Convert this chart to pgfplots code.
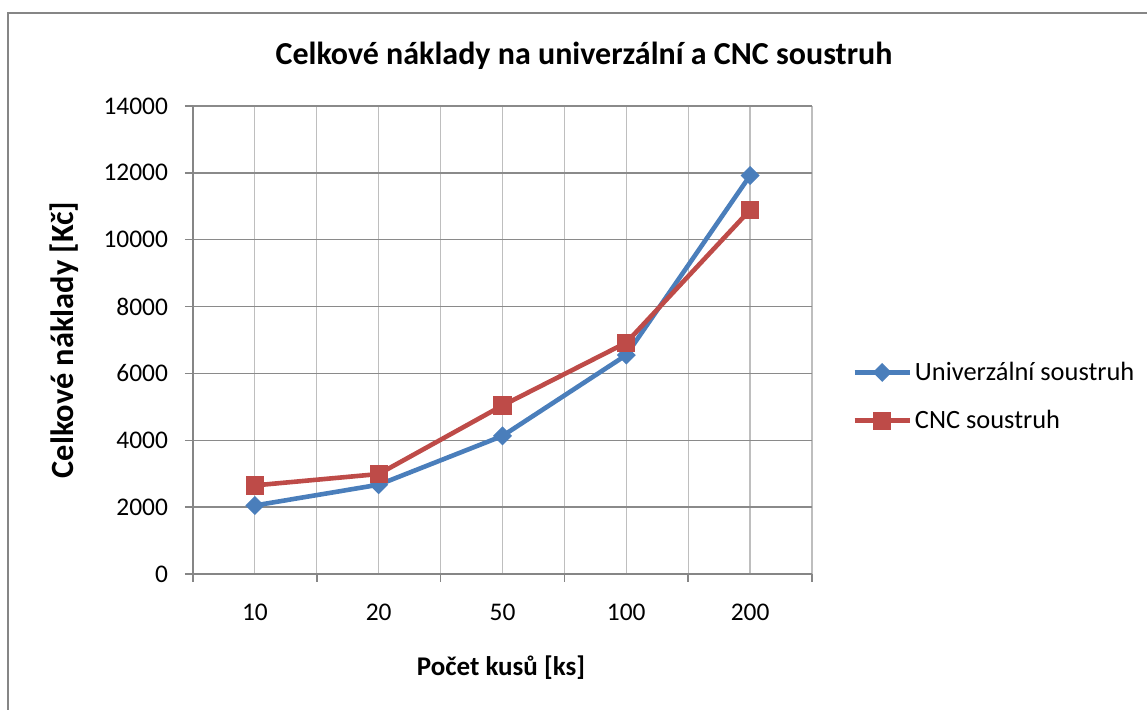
\documentclass[border=0pt]{standalone}
\usepackage{pgfplots}
\pgfplotsset{compat=1.18}
\usepackage{fontspec}
\setmainfont{Carlito}
\definecolor{serA}{RGB}{74,126,187}
\definecolor{serB}{RGB}{190,75,72}
\definecolor{axgray}{RGB}{134,134,134}
\definecolor{hgrid}{RGB}{138,138,138}
\definecolor{vgrid}{RGB}{190,190,190}
\begin{document}
\begin{tikzpicture}
\useasboundingbox (0,0) rectangle (573.5pt,355pt);
\draw[axgray, line width=1pt] (4pt,0pt) -- (4pt,348.5pt) -- (573.5pt,348.5pt);
\begin{axis}[
  at={(96.5pt,68pt)}, anchor=south west,
  scale only axis, width=309.5pt, height=234pt,
  xmin=-0.5, xmax=4.5, ymin=0, ymax=14000,
  xtick={0,1,2,3,4}, xticklabels={10,20,50,100,200},
  minor xtick={-0.5,0.5,1.5,2.5,3.5,4.5},
  ytick={0,2000,4000,6000,8000,10000,12000,14000},
  scaled y ticks=false,
  /pgf/number format/1000 sep={},
  /pgf/number format/assume math mode=true,
  axis x line*=bottom, axis y line*=left,
  axis line style={axgray, line width=0.75pt},
  tick align=outside,
  major tick length=4pt, minor tick length=4pt,
  major x tick style={draw=none},
  minor x tick style={axgray, line width=0.75pt},
  major y tick style={axgray, line width=0.75pt},
  xmajorgrids, xminorgrids, ymajorgrids,
  major x grid style={vgrid, line width=0.6pt},
  minor x grid style={vgrid, line width=0.6pt},
  major y grid style={hgrid, line width=0.75pt},
  ticklabel style={font=\fontsize{12.7}{15}\selectfont},
  yticklabel style={xshift=-5pt},
  xticklabel style={yshift=-7.5pt},
  clip=false,
  legend style={at={(axis description cs:1.0646,0.379)}, anchor=west, draw=none, fill=none,
    inner sep=0pt, row sep=10.5pt,
    font=\fontsize{13.2}{15}\selectfont,
    nodes={inner sep=1.5pt}},
  legend cell align=left,
  legend image code/.code={\draw[#1, mark repeat=2, mark phase=2] plot coordinates {(0pt,0pt) (13.75pt,0pt) (27.5pt,0pt)};},
]
\addplot[color=serA, line width=2.3pt, mark=square*, mark size=3.1pt, mark options={rotate=45, line width=0.5pt, fill=serA}]
  coordinates {(0,2050) (1,2670) (2,4130) (3,6550) (4,11920)};
\addlegendentry{Univerzální soustruh}
\addplot[color=serB, line width=2.3pt, mark=square*, mark size=4.3pt, mark options={line width=0.5pt, fill=serB}]
  coordinates {(0,2650) (1,2990) (2,5040) (3,6920) (4,10890)};
\addlegendentry{CNC soustruh}
\end{axis}
\node[font=\fontsize{16}{19}\selectfont\bfseries] at (292pt,327pt) {Celkové náklady na univerzální a CNC soustruh};
\node[font=\fontsize{16.2}{19}\selectfont\bfseries, rotate=90] at (32pt,185pt) {Celkové náklady [Kč]};
\node[font=\fontsize{13.5}{16}\selectfont\bfseries] at (250.5pt,21pt) {Počet kusů [ks]};
\end{tikzpicture}
\end{document}
